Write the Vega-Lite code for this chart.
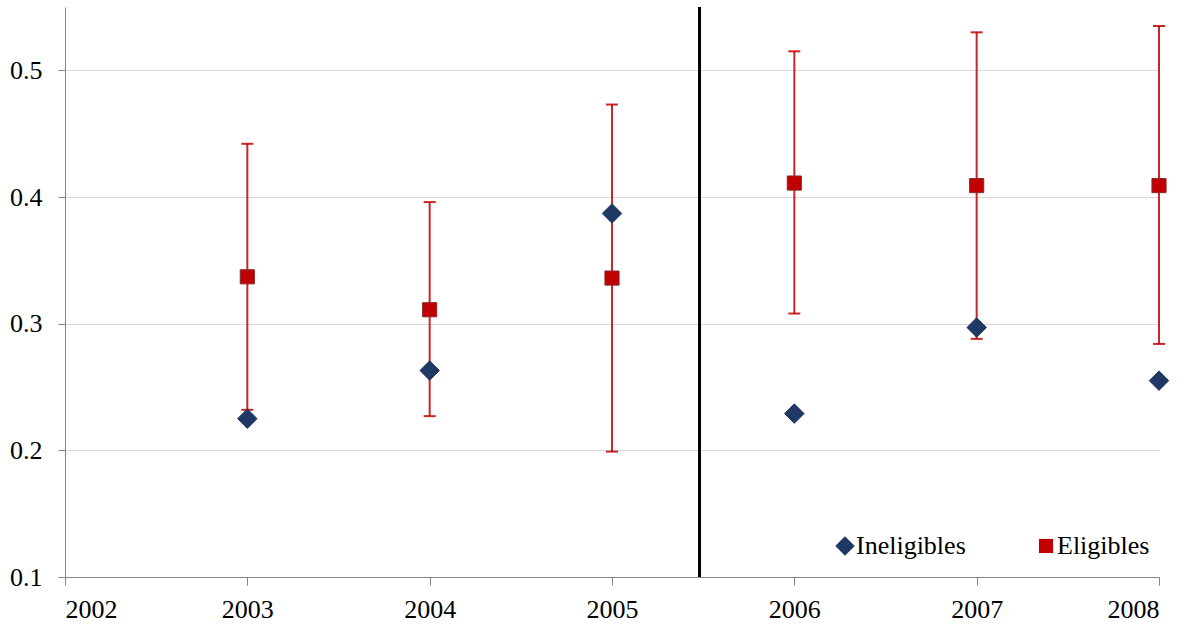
{
  "$schema": "https://vega.github.io/schema/vega-lite/v6.json",
  "width": 1094,
  "height": 570,
  "autosize": {"type": "none"},
  "padding": {"left": 65, "top": 7, "right": 37, "bottom": 49},
  "background": "white",
  "config": {
    "font": "Liberation Serif",
    "view": {"stroke": null},
    "axis": {"labelFont": "Liberation Serif", "labelFontSize": 26, "labelColor": "#000000", "domainColor": "#868686", "tickColor": "#868686", "gridColor": "#D9D9D9", "titleFont": "Liberation Serif"}
  },
  "datasets": {
    "pts": [
      {"year": 2003, "group": "Ineligibles", "value": 0.225},
      {"year": 2004, "group": "Ineligibles", "value": 0.263},
      {"year": 2005, "group": "Ineligibles", "value": 0.387},
      {"year": 2006, "group": "Ineligibles", "value": 0.229},
      {"year": 2007, "group": "Ineligibles", "value": 0.297},
      {"year": 2008, "group": "Ineligibles", "value": 0.255},
      {"year": 2003, "group": "Eligibles", "value": 0.337, "lower": 0.232, "upper": 0.442},
      {"year": 2004, "group": "Eligibles", "value": 0.311, "lower": 0.227, "upper": 0.396},
      {"year": 2005, "group": "Eligibles", "value": 0.336, "lower": 0.199, "upper": 0.473},
      {"year": 2006, "group": "Eligibles", "value": 0.411, "lower": 0.308, "upper": 0.515},
      {"year": 2007, "group": "Eligibles", "value": 0.409, "lower": 0.288, "upper": 0.530},
      {"year": 2008, "group": "Eligibles", "value": 0.409, "lower": 0.284, "upper": 0.535}
    ],
    "cut": [{"x": 2005.48}]
  },
  "layer": [
    {
      "data": {"name": "pts"},
      "transform": [{"filter": "datum.group === 'Eligibles'"}],
      "mark": {"type": "rule", "color": "#C00000", "strokeWidth": 2, "opacity": 0.85},
      "encoding": {
        "x": {"field": "year", "type": "quantitative", "scale": {"domain": [2002, 2008], "nice": false, "zero": false},
              "axis": {"title": null, "values": [2002, 2003, 2004, 2005, 2006, 2007, 2008], "format": "d", "grid": false, "tickSize": 8, "labelPadding": 11, "labelFontSize": 26, "labelFont": "Liberation Serif"}},
        "y": {"field": "lower", "type": "quantitative", "scale": {"domain": [0.1, 0.55], "nice": false, "zero": false},
              "axis": {"title": null, "values": [0.1, 0.2, 0.3, 0.4, 0.5], "format": ".1f", "grid": true, "tickSize": 7, "labelPadding": 16, "labelFontSize": 26, "labelFont": "Liberation Serif"}},
        "y2": {"field": "upper"}
      }
    },
    {
      "data": {"name": "pts"},
      "transform": [{"filter": "datum.group === 'Eligibles'"}],
      "mark": {"type": "tick", "orient": "horizontal", "color": "#C00000", "size": 12, "thickness": 2, "opacity": 0.85},
      "encoding": {
        "x": {"field": "year", "type": "quantitative"},
        "y": {"field": "upper", "type": "quantitative"}
      }
    },
    {
      "data": {"name": "pts"},
      "transform": [{"filter": "datum.group === 'Eligibles'"}],
      "mark": {"type": "tick", "orient": "horizontal", "color": "#C00000", "size": 12, "thickness": 2, "opacity": 0.85},
      "encoding": {
        "x": {"field": "year", "type": "quantitative"},
        "y": {"field": "lower", "type": "quantitative"}
      }
    },
    {
      "data": {"name": "cut"},
      "mark": {"type": "rule", "color": "#000000", "strokeWidth": 3},
      "encoding": {
        "x": {"field": "x", "type": "quantitative"}
      }
    },
    {
      "data": {"name": "pts"},
      "mark": {"type": "point", "filled": true, "opacity": 1, "strokeWidth": 1},
      "encoding": {
        "x": {"field": "year", "type": "quantitative"},
        "y": {"field": "value", "type": "quantitative"},
        "color": {"field": "group", "type": "nominal",
                  "scale": {"domain": ["Ineligibles", "Eligibles"], "range": ["#1F3864", "#C00000"]},
                  "legend": {"title": null, "orient": "none", "legendX": 767, "legendY": 526, "direction": "horizontal", "padding": 0,
                             "labelFont": "Liberation Serif", "labelFontSize": 26, "labelColor": "#000000", "symbolSize": 260,
                             "columnPadding": 67, "labelOffset": -2, "symbolOpacity": 1, "symbolStrokeWidth": 0}},
        "shape": {"field": "group", "type": "nominal",
                  "scale": {"domain": ["Ineligibles", "Eligibles"], "range": ["diamond", "square"]}},
        "size": {"field": "group", "type": "nominal",
                 "scale": {"domain": ["Ineligibles", "Eligibles"], "range": [380, 200]}, "legend": null},
        "stroke": {"field": "group", "type": "nominal",
                   "scale": {"domain": ["Ineligibles", "Eligibles"], "range": ["#1F3864", "#8B2A2A"]}, "legend": null}
      }
    }
  ]
}
